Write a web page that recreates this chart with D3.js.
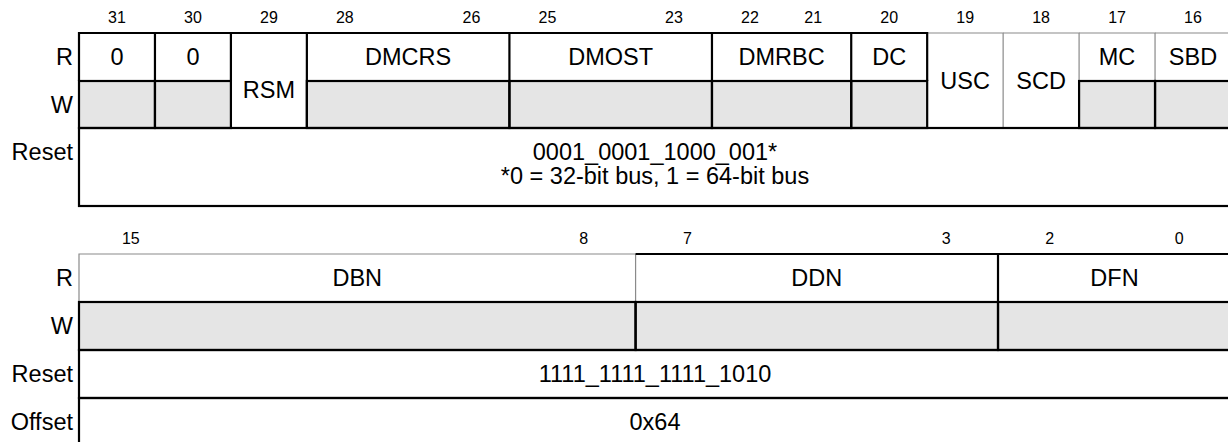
<!DOCTYPE html>
<html><head><meta charset="utf-8">
<script src="https://cdn.jsdelivr.net/npm/d3@7"></script>
<style>html,body{margin:0;padding:0;background:#fff;overflow:hidden}</style>
</head><body><svg id="chart" width="1228" height="442"></svg>
<script>
// ---------------- data ----------------
// access codes: "r"  = read field, write cell not writable (black borders)
//               "rg" = read field drawn with the light outline
//               "rw" = one cell spanning R and W (black outline)
//               "rwg"= one cell spanning R and W (light outline)
const upperNames  = ["0", "0", "RSM", "DMCRS", "DMOST", "DMRBC", "DC", "USC", "SCD", "MC", "SBD"];
const upperMsb    = [31, 30, 29, 28, 25, 22, 20, 19, 18, 17, 16];
const upperLsb    = [31, 30, 29, 26, 23, 21, 20, 19, 18, 17, 16];
const upperAccess = ["r", "r", "rw", "r", "r", "r", "r", "rwg", "rwg", "rg", "rg"];
const upperRowLabels = ["R", "W", "Reset"];
const upperResetLines = ["0001_0001_1000_001*", "*0 = 32-bit bus, 1 = 64-bit bus"];

const lowerNames  = ["DBN", "DDN", "DFN"];
const lowerMsb    = [15, 7, 2];
const lowerLsb    = [8, 3, 0];
const lowerAccess = ["rg", "r", "r"];
const lowerRowLabels = ["R", "W", "Reset", "Offset"];
const lowerResetLines = ["1111_1111_1111_1010"];
const lowerOffsetLines = ["0x64"];

// ---------------- layout ----------------
const FONT = "'Liberation Sans', Arial, Helvetica, sans-serif";
const MAIN_SIZE = 23.5, BIT_SIZE = 16;
const LEFT = 79, RIGHT = 1231, LABEL_X = 73;
const GRAY_FILL = "#e5e5e5", GRAY_LINE = "#8a8a8a";
const svg = d3.select("#chart");

function drawRegister(cfg) {
  const g = svg.append("g");
  const rowLabelY = [];
  const fields = cfg.names.map((n, i) => ({
    name: n, msb: cfg.msb[i], lsb: cfg.lsb[i], access: cfg.access[i],
    bits: cfg.msb[i] - cfg.lsb[i] + 1
  }));
  // cumulative weights -> x scale
  let acc = 0;
  fields.forEach(f => { f.w0 = acc; acc += f.bits + cfg.pad; f.w1 = acc; });
  const x = d3.scaleLinear().domain([0, acc]).range([LEFT, RIGHT]);
  const halfBit = (x(1 + cfg.pad) - x(0)) / 2;

  // row tops
  const rowTop = [];
  let y = cfg.top;
  cfg.rowHeights.forEach(h => { rowTop.push(y); y += h; });
  const rowH = cfg.rowHeights;
  const rTop = rowTop[0], wTop = rowTop[1], wBot = rowTop[1] + rowH[1];

  const spans = a => a === "rw" || a === "rwg";
  const light = a => a === "rg" || a === "rwg";

  // W cell fills
  g.selectAll("rect.wfill").data(fields.filter(f => !spans(f.access))).join("rect")
    .attr("x", f => x(f.w0)).attr("y", wTop)
    .attr("width", f => x(f.w1) - x(f.w0)).attr("height", rowH[1])
    .attr("fill", GRAY_FILL);

  // R cell outlines (top + right, left for first field)
  const rPath = (f, i) => {
    const x0 = x(f.w0), x1 = x(f.w1);
    const yb = spans(f.access) ? wBot : wTop;
    return (i === 0 ? `M${x0},${yb}L${x0},${rTop}` : `M${x0},${rTop}`) + `L${x1},${rTop}L${x1},${yb}`;
  };
  const withIdx = fields.map((f, i) => ({ f, i }));
  g.selectAll("path.rlight").data(withIdx.filter(d => light(d.f.access))).join("path")
    .attr("d", d => rPath(d.f, d.i)).attr("fill", "none")
    .attr("stroke", GRAY_LINE).attr("stroke-width", 1.2);
  g.selectAll("path.rdark").data(withIdx.filter(d => !light(d.f.access))).join("path")
    .attr("d", d => rPath(d.f, d.i)).attr("fill", "none")
    .attr("stroke", "#000").attr("stroke-width", 2.2);

  // W cell outlines
  g.selectAll("rect.wcell").data(fields.filter(f => !spans(f.access))).join("rect")
    .attr("x", f => x(f.w0)).attr("y", wTop)
    .attr("width", f => x(f.w1) - x(f.w0)).attr("height", rowH[1])
    .attr("fill", "none").attr("stroke", "#000").attr("stroke-width", 2.2);

  // full-width rows (Reset, Offset)
  const extraRows = [cfg.resetLines, cfg.offsetLines].filter(Boolean);
  extraRows.forEach((lines, k) => {
    const ri = 2 + k;
    g.append("rect").attr("x", x(0)).attr("y", rowTop[ri])
      .attr("width", x(acc) - x(0)).attr("height", rowH[ri])
      .attr("fill", "none").attr("stroke", "#000").attr("stroke-width", 2.2);
    const cy = rowTop[ri] + rowH[ri] / 2;
    const n = lines.length;
    const ly = lines.map((t, j) => cy + (j - (n - 1) / 2) * 24 - (n > 1 ? 3 : 0));
    g.selectAll(null).data(lines).join("text")
      .attr("x", (x(0) + x(acc)) / 2).attr("y", (t, j) => ly[j]).attr("dy", "0.35em")
      .attr("text-anchor", "middle").attr("font-family", FONT).attr("font-size", MAIN_SIZE)
      .text(t => t);
    rowLabelY[ri] = ly[0];
  });

  // field names
  g.selectAll("text.fname").data(fields).join("text")
    .attr("x", f => (x(f.w0) + x(f.w1)) / 2)
    .attr("y", f => spans(f.access)
      ? (rTop + wBot) / 2 + (f.access === "rw" ? 9 : 0)
      : rTop + rowH[0] / 2)
    .attr("dy", "0.35em").attr("text-anchor", "middle")
    .attr("font-family", FONT).attr("font-size", MAIN_SIZE).text(f => f.name);

  // bit numbers
  const bitLabels = [];
  fields.forEach(f => {
    if (f.bits === 1) bitLabels.push({ t: f.msb, x: (x(f.w0) + x(f.w1)) / 2 });
    else {
      bitLabels.push({ t: f.msb, x: x(f.w0) + halfBit });
      bitLabels.push({ t: f.lsb, x: x(f.w1) - halfBit });
    }
  });
  g.selectAll("text.bit").data(bitLabels).join("text")
    .attr("x", d => d.x).attr("y", cfg.top - 16).attr("dy", "0.35em")
    .attr("text-anchor", "middle").attr("font-family", FONT).attr("font-size", BIT_SIZE)
    .text(d => d.t);

  // row labels
  g.selectAll("text.row").data(cfg.rowLabels).join("text")
    .attr("x", LABEL_X)
    .attr("y", (t, i) => rowLabelY[i] !== undefined ? rowLabelY[i] : rowTop[i] + rowH[i] / 2)
    .attr("dy", "0.35em").attr("text-anchor", "end")
    .attr("font-family", FONT).attr("font-size", MAIN_SIZE).text(t => t);
}

drawRegister({
  names: upperNames, msb: upperMsb, lsb: upperLsb, access: upperAccess,
  rowLabels: upperRowLabels, resetLines: upperResetLines,
  top: 33, rowHeights: [48, 47, 78], pad: 0.2
});
drawRegister({
  names: lowerNames, msb: lowerMsb, lsb: lowerLsb, access: lowerAccess,
  rowLabels: lowerRowLabels, resetLines: lowerResetLines, offsetLines: lowerOffsetLines,
  top: 254, rowHeights: [48, 48, 48, 48], pad: 0.6
});
</script></body></html>
